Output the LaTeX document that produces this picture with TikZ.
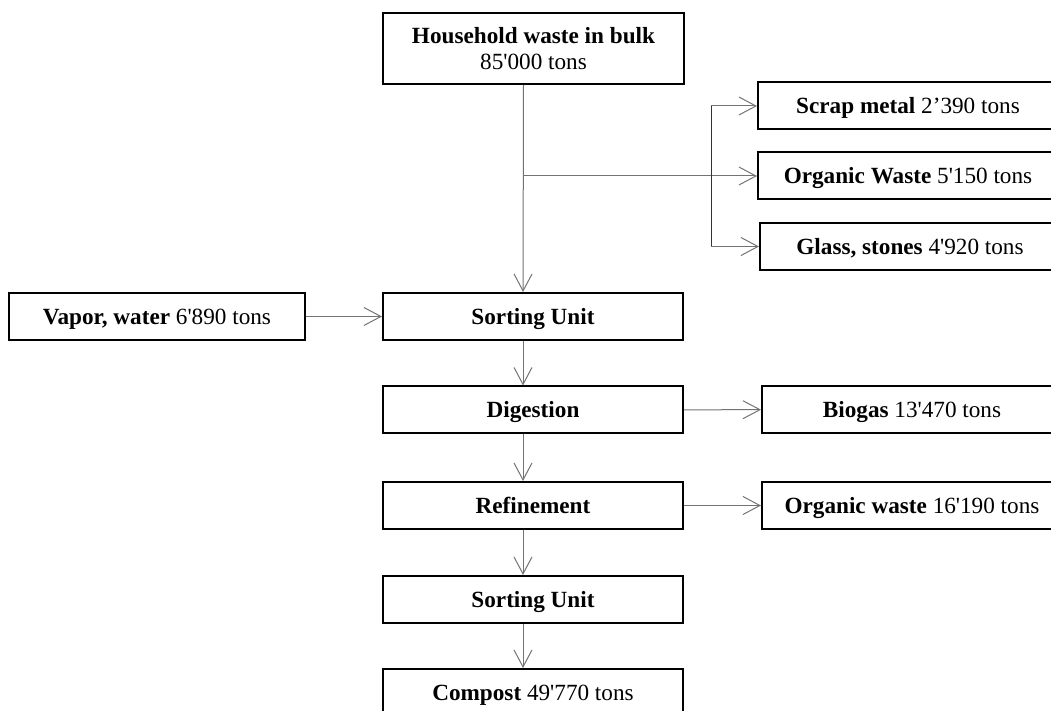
\documentclass[tikz,border=0pt]{standalone}
\usepackage{fontspec}
\setmainfont{Liberation Serif}[Ligatures=TeXOff]
\usetikzlibrary{arrows.meta}
\tikzset{
  box/.style={draw, line width=1pt, minimum width=150pt, minimum height=23.5pt,
    inner sep=0pt, align=center, text height=7.7pt, text depth=0pt,
    font=\fontsize{11.6}{13}\selectfont},
  flow/.style={draw=black!55, line width=0.5pt,
    -{Straight Barb[length=8.5pt,width=9pt,line width=0.5pt]}},
}
\begin{document}
\begin{tikzpicture}[x=0.5pt,y=-0.5pt]
  \useasboundingbox (0,0) rectangle (1051,711);
  % Main column
  \node[box, minimum width=150.5pt, minimum height=35.5pt, text height=20.7pt] (house)
    at (533.5,48.5) {\textbf{Household waste in bulk}\\85'000 tons};
  \node[box] (sort1) at (533,316.5) {\textbf{Sorting Unit}};
  \node[box] (dig) at (533,410) {\textbf{Digestion}};
  \node[box] (ref) at (533,505.5) {\textbf{Refinement}};
  \node[box] (sort2) at (533,599.5) {\textbf{Sorting Unit}};
  \node[box] (compost) at (533,692.5) {\textbf{Compost} 49'770 tons};
  % Input on the left
  \node[box, minimum width=148pt] (vapor) at (157,316.5) {\textbf{Vapor, water} 6'890 tons};
  % Outputs on the right
  \node[box, anchor=west] (scrap) at (757,106) {\textbf{Scrap metal} 2’390 tons};
  \node[box, anchor=west] (organic) at (757,175.5) {\textbf{Organic Waste} 5'150 tons};
  \node[box, anchor=west] (glass) at (759,246.5) {\textbf{Glass, stones} 4'920 tons};
  \node[box, anchor=west] (biogas) at (761,409.5) {\textbf{Biogas} 13'470 tons};
  \node[box, anchor=west] (orgwaste) at (761,505.5) {\textbf{Organic waste} 16'190 tons};
  % Branch to the sorted fractions
  \coordinate (split) at (523,176);
  \coordinate (fork) at (711,176);
  \draw[flow] ([xshift=-5pt]house.south) -- ([xshift=-5pt]sort1.north);
  \draw[flow] (split) -- (split -| organic.west);
  \draw[black!80, line width=0.5pt] (fork |- scrap.west) -- (fork |- glass.west);
  \draw[flow] (fork |- scrap.west) -- (scrap.west);
  \draw[flow] (fork |- glass.west) -- (glass.west);
  % Flow down the column
  \draw[flow] (vapor) -- (sort1);
  \foreach \a/\b in {sort1/dig, dig/ref, ref/sort2, sort2/compost}
    \draw[flow] ([xshift=-5pt]\a.south) -- ([xshift=-5pt]\b.north);
  \draw[flow] (dig) -- (biogas);
  \draw[flow] (ref) -- (orgwaste);
\end{tikzpicture}
\end{document}
